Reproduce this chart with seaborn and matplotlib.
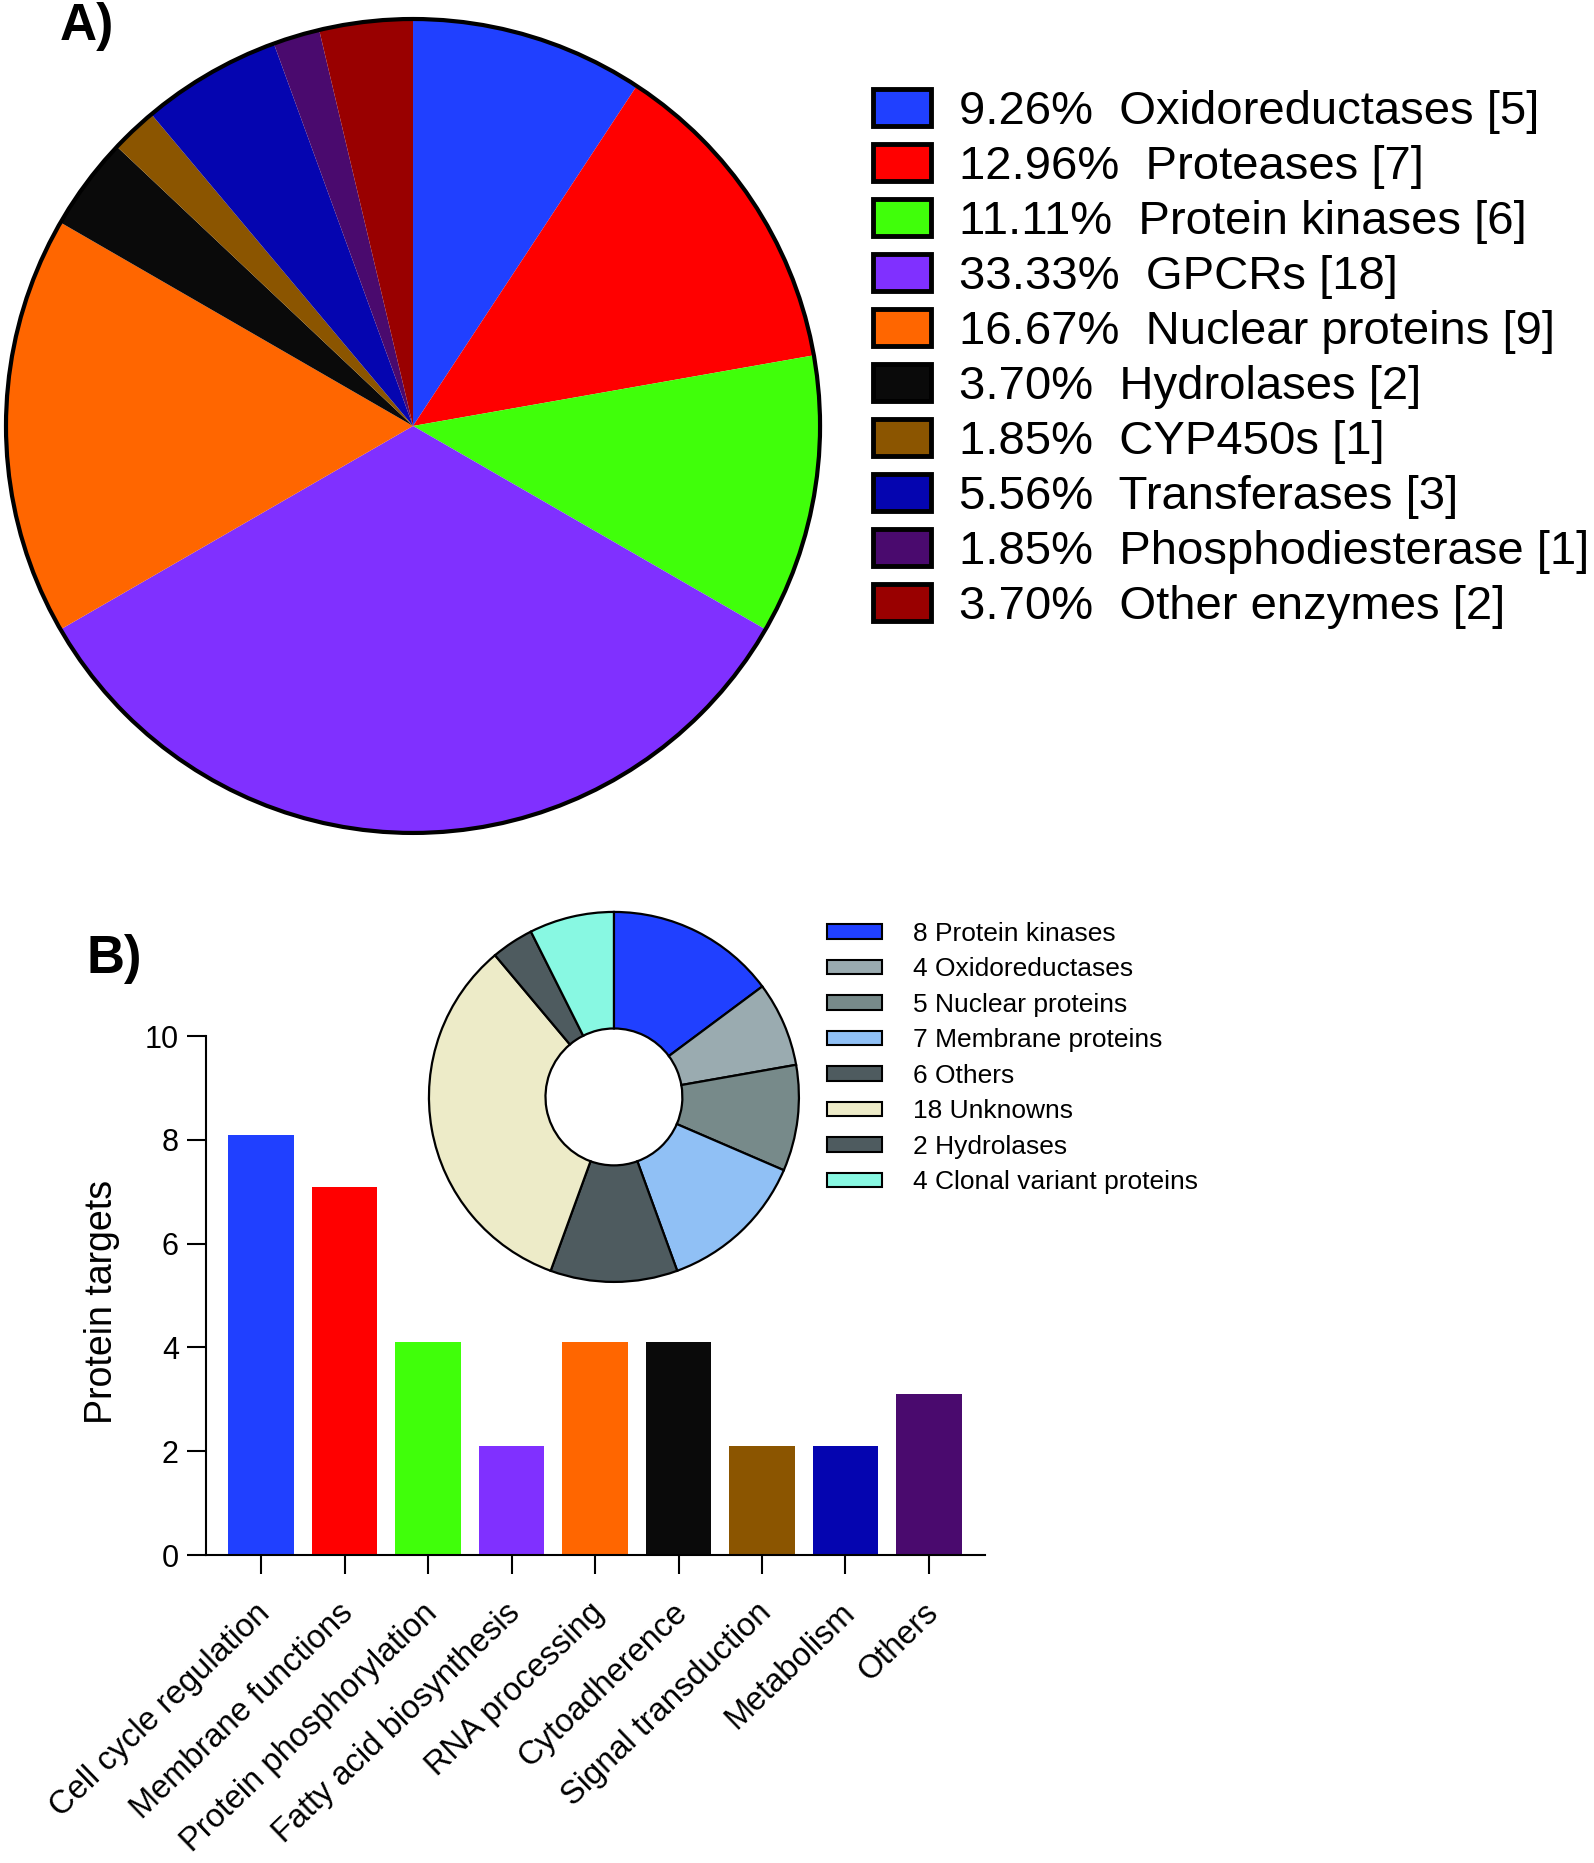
import matplotlib
matplotlib.use("Agg")
import matplotlib.pyplot as plt
import matplotlib.patches as mpatches
import matplotlib.transforms as mtransforms
import seaborn as sns

# panel A: target classes
a_names = ["Oxidoreductases", "Proteases", "Protein kinases", "GPCRs", "Nuclear proteins",
           "Hydrolases", "CYP450s", "Transferases", "Phosphodiesterase", "Other enzymes"]
a_counts = [5, 7, 6, 18, 9, 2, 1, 3, 1, 2]
a_pcts = ["9.26%", "12.96%", "11.11%", "33.33%", "16.67%", "3.70%", "1.85%", "5.56%", "1.85%", "3.70%"]
a_colors = ["#2040FF", "#FF0000", "#40FF0A", "#8030FF", "#FF6600",
            "#0A0A0A", "#8B5500", "#0505B0", "#4A0A6E", "#990000"]

# panel B: bar chart of processes
b_cats = ["Cell cycle regulation", "Membrane functions", "Protein phosphorylation",
          "Fatty acid biosynthesis", "RNA processing", "Cytoadherence",
          "Signal transduction", "Metabolism", "Others"]
b_vals = [8.1, 7.1, 4.1, 2.1, 4.1, 4.1, 2.1, 2.1, 3.1]
b_colors = ["#2040FF", "#FF0000", "#40FF0A", "#8030FF", "#FF6600",
            "#0A0A0A", "#8B5500", "#0505B0", "#4A0A6E"]

# panel B inset: donut
d_names = ["Protein kinases", "Oxidoreductases", "Nuclear proteins", "Membrane proteins",
           "Others", "Unknowns", "Hydrolases", "Clonal variant proteins"]
d_counts = [8, 4, 5, 7, 6, 18, 2, 4]
d_colors = ["#2040FF", "#9AABB0", "#778A8A", "#90C0F5",
            "#4E5B5F", "#EDEBC8", "#4E5B5F", "#88F8E2"]

sns.set_style("ticks")
plt.rcParams['font.family'] = ['Liberation Sans', 'DejaVu Sans']
plt.rcParams.update({'text.color': 'black', 'axes.labelcolor': 'black',
                     'xtick.color': 'black', 'ytick.color': 'black',
                     'axes.edgecolor': 'black'})

W, H = 1594, 1863
fig = plt.figure(figsize=(W / 100, H / 100), dpi=100)

# ---- A) pie
axA = fig.add_axes([0.00376, 0.5529, 0.5107, 0.4369])
axA.pie(a_counts, colors=a_colors, startangle=90, counterclock=False, radius=1,
        wedgeprops=dict(linewidth=0))
axA.add_patch(mpatches.Circle((0, 0), 1, fill=False, edgecolor='black', lw=3, clip_on=False))
axA.set_xlim(-1, 1)
axA.set_ylim(-1, 1)
axA.set_aspect('auto')
axA.axis('off')

a_handles = [mpatches.Patch(facecolor=c, edgecolor='black', linewidth=3.5) for c in a_colors]
a_labels = [f"{p}  {n} [{k}]" for p, n, k in zip(a_pcts, a_names, a_counts)]
fig.legend(a_handles, a_labels, loc='upper left', bbox_to_anchor=(873 / W, 1 - 89 / H),
           frameon=False, fontsize=34, borderpad=0, borderaxespad=0,
           handlelength=1.23, handleheight=0.83, handletextpad=0.6, labelspacing=0.215)

fig.text(60 / W, 1 - 2 / H, "A)", fontsize=37, fontweight='bold', va='top', ha='left')

# ---- B) bars
axB = fig.add_axes([0.1292, 0.1653, 0.4887, 0.2786])
sns.barplot(x=b_cats, y=b_vals, hue=b_cats, palette=b_colors, legend=False,
            width=0.78, saturation=1, linewidth=0, ax=axB)
axB.set_xlim(-0.66, 8.67)
axB.set_ylim(0, 10)
axB.set_yticks([0, 2, 4, 6, 8, 10])
sns.despine(ax=axB)
for s in ['left', 'bottom']:
    axB.spines[s].set_linewidth(1.5)
axB.tick_params(axis='both', length=13.5, width=1.5, labelsize=22, pad=6)
axB.tick_params(axis='x', pad=25)
axB.set_xticks(range(len(b_cats)))
axB.set_xticklabels(b_cats, rotation=44, ha='right', va='center',
                    rotation_mode='anchor', fontsize=23.5)
shift = mtransforms.ScaledTranslation(4.5 / 100, 0, fig.dpi_scale_trans)
for lab in axB.get_xticklabels():
    lab.set_transform(lab.get_transform() + shift)
axB.set_ylabel("Protein targets", fontsize=27)
axB.yaxis.set_label_coords(-0.1105, 0.487)
axB.set_xlabel("")

fig.text(86 / W, 1 - 934 / H, "B)", fontsize=38, fontweight='bold', va='top', ha='left')

# ---- B inset) donut
axD = fig.add_axes([0.2691, 0.3119, 0.2321, 0.1986])
axD.pie(d_counts, colors=d_colors, startangle=90, counterclock=False, radius=1,
        wedgeprops=dict(width=0.63, edgecolor='black', linewidth=1.6))
axD.set_xlim(-1, 1)
axD.set_ylim(-1, 1)
axD.set_aspect('auto')
axD.axis('off')

d_handles = [mpatches.Patch(facecolor=c, edgecolor='black', linewidth=1.5) for c in d_colors]
d_labels = [f"{k} {n}" for k, n in zip(d_counts, d_names)]
fig.legend(d_handles, d_labels, loc='upper left', bbox_to_anchor=(827 / W, 1 - 922 / H),
           frameon=False, fontsize=19, borderpad=0, borderaxespad=0,
           handlelength=2.1, handleheight=0.46, handletextpad=1.15, labelspacing=0.435)

fig.savefig("out.png", dpi=100)
